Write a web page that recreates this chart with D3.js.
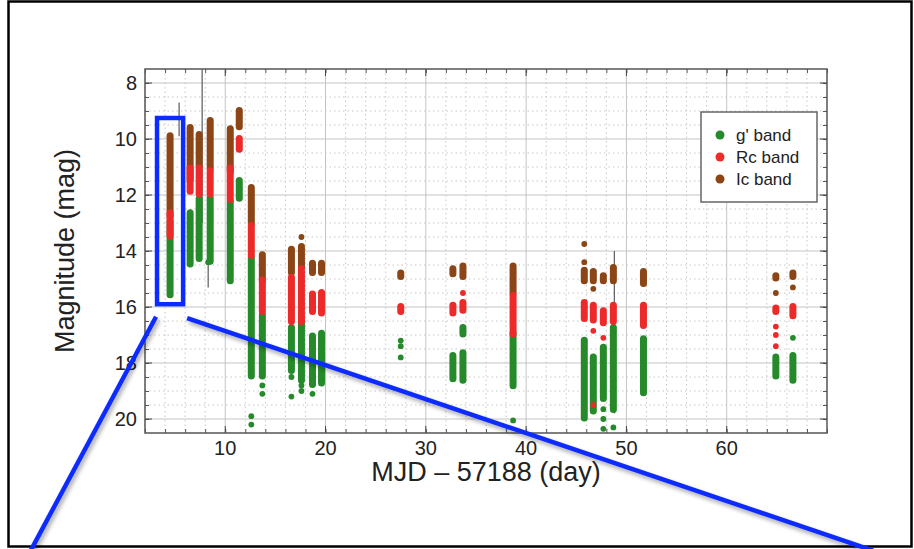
<!DOCTYPE html>
<meta charset="utf-8">
<style>
	body { margin: 0; background: #fff; }
	svg text { font-family: "Liberation Sans", Arial, Helvetica, sans-serif; fill: #222; }
	.major { stroke: #c4c4c4; stroke-width: 1; }
	.minor { stroke: #c8c8c8; stroke-width: 1; stroke-dasharray: 1.5,3; }
</style>
<body>
<script src="https://d3js.org/d3.v7.min.js"></script>
<script>

	// nightly ranges per band: [day, brightest mag, faintest mag]
	var gRanges = [
		[4.5, 12.9, 15.6], [6.5, 12.6, 14.5], [7.4, 12.1, 14.3], [8.5, 12.05, 14.4],
		[10.5, 12.2, 15.1], [11.4, 11.45, 12.15], [12.6, 14.2, 18.5], [13.7, 16.25, 18.5],
		[16.6, 16.7, 18.3], [17.6, 16.45, 18.65], [18.7, 17.0, 18.8], [19.6, 16.9, 18.75],
		[32.7, 17.7, 18.6], [33.7, 16.7, 17.0], [33.7, 17.6, 18.65], [38.7, 16.9, 18.85],
		[45.8, 17.15, 20.0], [46.7, 17.75, 19.75], [47.7, 17.4, 19.3], [48.7, 16.7, 19.7],
		[51.7, 17.1, 19.1], [64.9, 17.75, 18.5], [66.6, 17.7, 18.65]
	];
	var rRanges = [
		[4.5, 12.6, 13.5], [6.5, 11.0, 11.9], [7.4, 11.0, 12.0], [8.5, 11.1, 12.0],
		[10.5, 11.0, 12.2], [11.4, 9.95, 10.4], [12.6, 13.05, 14.2], [13.7, 15.0, 16.2],
		[16.6, 14.9, 16.55], [17.6, 14.6, 16.55], [18.7, 15.5, 16.2], [19.6, 15.45, 16.25],
		[27.5, 15.95, 16.2], [32.7, 15.9, 16.25], [33.7, 15.8, 16.15], [38.7, 15.55, 17.0],
		[45.8, 15.8, 16.45], [46.7, 15.9, 16.5], [47.7, 16.1, 16.6], [48.7, 15.9, 16.55],
		[51.7, 15.9, 16.7], [64.9, 16.0, 16.2], [66.6, 15.95, 16.35]
	];
	var iRanges = [
		[4.5, 9.85, 12.8], [6.5, 9.55, 11.5], [7.4, 9.8, 11.0], [8.5, 9.3, 11.1],
		[10.5, 9.6, 11.2], [11.4, 8.95, 9.6], [12.6, 11.7, 13.05], [13.7, 14.1, 15.1],
		[16.6, 13.9, 14.8], [17.6, 13.8, 14.6], [18.7, 14.4, 14.8], [19.6, 14.4, 14.8],
		[27.5, 14.75, 14.95], [32.7, 14.6, 14.85], [33.7, 14.5, 14.95], [38.7, 14.5, 15.55],
		[45.8, 14.65, 15.1], [46.7, 14.7, 15.1], [47.7, 14.85, 15.1], [48.7, 14.55, 15.1],
		[51.7, 14.7, 15.2], [64.9, 14.85, 15.0], [66.6, 14.75, 14.95]
	];

	// isolated measurements: [day, mag]
	var gPoints = [
		[8.3, 14.4], [12.6, 19.9], [12.6, 20.2], [13.7, 18.8], [13.7, 19.1],
		[16.6, 18.5], [16.6, 19.2], [17.6, 18.8], [17.6, 19.0], [18.7, 19.1],
		[27.5, 17.2], [27.5, 17.4], [27.5, 17.8], [38.7, 20.05],
		[47.7, 19.65], [47.7, 20.0], [47.7, 20.35], [48.7, 20.3], [66.6, 17.1]
	];
	var rPoints = [
		[33.7, 15.5], [46.7, 16.85], [46.7, 19.5], [47.7, 17.1],
		[64.9, 16.7], [64.9, 17.0], [64.9, 17.4]
	];
	var iPoints = [
		[17.6, 13.5], [45.8, 13.75], [45.8, 14.4], [46.7, 15.35], [64.9, 15.5], [66.6, 15.3]
	];

	// thin grey error bars: [day, top mag, bottom mag]
	var errBars = [[5.4, 8.7, 9.9], [7.7, 7.5, 13.0], [8.3, 13.6, 15.3], [48.8, 14.0, 19.8]];

	var xTicks = [10, 20, 30, 40, 50, 60];
	var yTicks = [8, 10, 12, 14, 16, 18, 20];
	var bands = ["g' band", "Rc band", "Ic band"];
	var bandColors = ["#258a2c", "#ec2b2b", "#8b4513"];

	// zoom box (data units) and the two callout lines running off the page
	var zoomBox = [3.2, 9.25, 5.8, 15.9];
	var zoomLines = [[3.1, 16.35, -9.4, 24.7], [6.2, 16.4, 74.6, 24.7]];

	var width = 914,
		height = 549,
		margin = {left: 145, right: 87, top: 69, bottom: 116};

	var svg = d3.select("body").append("svg")
		.attr("width", width)
		.attr("height", height);

	var defs = svg.append("defs");
	defs.append("filter")
		.attr("id", "shadow")
		.attr("x", "-10%").attr("y", "-10%")
		.attr("width", "130%").attr("height", "130%")
		.append("feDropShadow")
		.attr("dx", 2).attr("dy", 3)
		.attr("stdDeviation", 2)
		.attr("flood-color", "#000")
		.attr("flood-opacity", 0.35);
	defs.append("filter")
		.attr("id", "soft")
		.append("feGaussianBlur")
		.attr("stdDeviation", 0.6);

	// page frame
	svg.append("rect")
		.attr("x", 8.5).attr("y", 1.5)
		.attr("width", 903).attr("height", 545)
		.attr("fill", "#fff")
		.attr("stroke", "#000")
		.attr("stroke-width", 2.5);

	var x = d3.scaleLinear().domain([2, 70]).range([margin.left, width - margin.right]);
	var y = d3.scaleLinear().domain([7.5, 20.5]).range([margin.top, height - margin.bottom]);

	var g = svg.append("g");

	// grid
	g.selectAll(".vminor")
		.data(d3.range(2, 70.1, 2).filter(function(d) { return d % 10 != 0; }))
		.enter().append("line")
			.attr("class", "minor")
			.attr("x1", x).attr("x2", x)
			.attr("y1", y(7.5)).attr("y2", y(20.5));
	g.selectAll(".hminor")
		.data(d3.range(8, 20.5, 0.5).filter(function(d) { return d % 2 != 0; }))
		.enter().append("line")
			.attr("class", "minor")
			.attr("y1", y).attr("y2", y)
			.attr("x1", x(2)).attr("x2", x(70));
	g.selectAll(".vmajor")
		.data(xTicks)
		.enter().append("line")
			.attr("class", "major")
			.attr("x1", x).attr("x2", x)
			.attr("y1", y(7.5)).attr("y2", y(20.5));
	g.selectAll(".hmajor")
		.data(yTicks)
		.enter().append("line")
			.attr("class", "major")
			.attr("y1", y).attr("y2", y)
			.attr("x1", x(2)).attr("x2", x(70));

	// axes, ticks pointing inward on all four sides
	var axTop = d3.axisTop(x).tickValues(d3.range(2, 70.1, 2)).tickSize(-4).tickFormat("");
	var axBottom = d3.axisBottom(x).tickValues(d3.range(2, 70.1, 2)).tickSize(-4).tickFormat("");
	var axLeft = d3.axisLeft(y).tickValues(d3.range(8, 20.1, 0.5)).tickSize(-4).tickFormat("");
	var axRight = d3.axisRight(y).tickValues(d3.range(8, 20.1, 0.5)).tickSize(-4).tickFormat("");

	[[axTop, "translate(0," + y(7.5) + ")"],
	 [axBottom, "translate(0," + y(20.5) + ")"],
	 [axLeft, "translate(" + x(2) + ",0)"],
	 [axRight, "translate(" + x(70) + ",0)"]].forEach(function(a) {
		var ax = g.append("g").attr("transform", a[1]).call(a[0]);
		ax.select(".domain").remove();
		ax.selectAll("line").attr("stroke", "#555");
	});

	// longer major ticks
	g.selectAll(".xmaj")
		.data(xTicks)
		.enter().append("path")
			.attr("stroke", "#444")
			.attr("d", function(d) {
				return "M" + x(d) + "," + y(7.5) + "v7M" + x(d) + "," + y(20.5) + "v-7";
			});
	g.selectAll(".ymaj")
		.data(yTicks)
		.enter().append("path")
			.attr("stroke", "#444")
			.attr("d", function(d) {
				return "M" + x(2) + "," + y(d) + "h7M" + x(70) + "," + y(d) + "h-7";
			});

	g.append("rect")
		.attr("x", x(2)).attr("y", y(7.5))
		.attr("width", x(70) - x(2)).attr("height", y(20.5) - y(7.5))
		.attr("fill", "none")
		.attr("stroke", "#555")
		.attr("stroke-width", 1.5);

	// tick labels
	g.selectAll(".ylab")
		.data(yTicks)
		.enter().append("text")
			.attr("x", x(2) - 8)
			.attr("y", y)
			.attr("dy", "0.36em")
			.attr("text-anchor", "end")
			.style("font-size", "20px")
			.text(function(d) { return d; });
	g.selectAll(".xlab")
		.data(xTicks)
		.enter().append("text")
			.attr("x", x)
			.attr("y", y(20.5) + 22)
			.attr("text-anchor", "middle")
			.style("font-size", "20px")
			.text(function(d) { return d; });

	svg.append("text")
		.attr("x", (x(2) + x(70)) / 2)
		.attr("y", 481)
		.attr("text-anchor", "middle")
		.style("font-size", "27px")
		.text("MJD \u2013 57188 (day)");
	svg.append("text")
		.attr("transform", "translate(74," + (y(7.5) + y(20.5)) / 2 + ")rotate(-90)")
		.attr("text-anchor", "middle")
		.style("font-size", "27px")
		.text("Magnitude (mag)");

	// error bars
	g.selectAll(".err")
		.data(errBars)
		.enter().append("line")
			.attr("x1", function(d) { return x(d[0]); })
			.attr("x2", function(d) { return x(d[0]); })
			.attr("y1", function(d) { return y(d[1]); })
			.attr("y2", function(d) { return y(d[2]); })
			.attr("stroke", "#666")
			.attr("stroke-width", 1.3);

	// data: green underneath, then Ic, Rc on top
	var layers = [[gRanges, gPoints, bandColors[0]], [iRanges, iPoints, bandColors[2]], [rRanges, rPoints, bandColors[1]]];
	var dataG = g.append("g").attr("filter", "url(#soft)");
	layers.forEach(function(l) {
		var lg = dataG.append("g").attr("fill", l[2]);
		lg.selectAll("rect")
			.data(l[0])
			.enter().append("rect")
				.attr("x", function(d) { return x(d[0]) - 3.5; })
				.attr("y", function(d) { return y(d[1]) - 2.5; })
				.attr("width", 7)
				.attr("height", function(d) { return y(d[2]) - y(d[1]) + 5; })
				.attr("rx", 3.5);
		lg.selectAll("circle")
			.data(l[1])
			.enter().append("circle")
				.attr("cx", function(d) { return x(d[0]); })
				.attr("cy", function(d) { return y(d[1]); })
				.attr("r", 2.9);
	});

	// legend
	var leg = svg.append("g").attr("transform", "translate(701,112)");
	leg.append("rect")
		.attr("width", 116).attr("height", 90)
		.attr("fill", "#fff")
		.attr("stroke", "#666")
		.attr("stroke-width", 1.5);
	var item = leg.selectAll(".item")
		.data(bands)
		.enter().append("g")
			.attr("transform", function(d, i) { return "translate(0," + (23 + i * 22) + ")"; });
	item.append("circle")
		.attr("cx", 19).attr("r", 4.5)
		.attr("fill", function(d, i) { return bandColors[i]; });
	item.append("text")
		.attr("x", 35)
		.attr("dy", "0.36em")
		.style("font-size", "17px")
		.text(function(d) { return d; });

	// zoom callout
	var ann = svg.append("g")
		.attr("stroke", "#0b2cff")
		.attr("fill", "none")
		.attr("stroke-width", 4.5);
	ann.append("rect")
		.attr("x", x(zoomBox[0])).attr("y", y(zoomBox[1]))
		.attr("width", x(zoomBox[2]) - x(zoomBox[0]))
		.attr("height", y(zoomBox[3]) - y(zoomBox[1]));
	ann.selectAll("line")
		.data(zoomLines)
		.enter().append("line")
			.attr("filter", "url(#shadow)")
			.attr("x1", function(d) { return x(d[0]); })
			.attr("y1", function(d) { return y(d[1]); })
			.attr("x2", function(d) { return x(d[2]); })
			.attr("y2", function(d) { return y(d[3]); });

</script>
</body>
</html>
